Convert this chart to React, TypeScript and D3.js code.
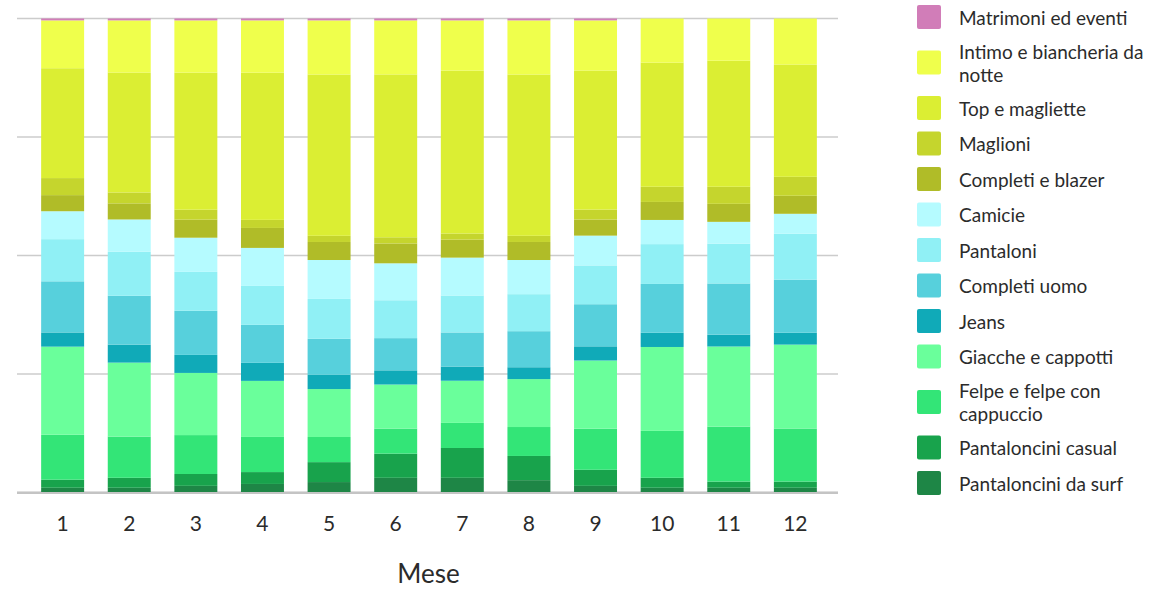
import React from "react";
import * as d3 from "d3";

const months = ["1", "2", "3", "4", "5", "6", "7", "8", "9", "10", "11", "12"];

// Series values (share per month, %), bottom to top of the stack
const pantaloncinDaSurf = [1.0, 1.0, 1.4, 1.8, 2.2, 3.1, 3.1, 2.6, 1.4, 1.0, 1.0, 1.0];
const pantaloncinCasual = [1.7, 2.1, 2.5, 2.5, 4.2, 5.1, 6.3, 5.1, 3.4, 2.1, 1.3, 1.3];
const felpe = [9.5, 8.7, 8.2, 7.4, 5.3, 5.3, 5.3, 6.1, 8.7, 9.9, 11.6, 11.2];
const giacche = [18.6, 15.6, 13.1, 11.8, 10.1, 9.3, 8.9, 10.1, 14.4, 17.7, 16.9, 17.7];
const jeans = [3.0, 3.8, 3.8, 3.8, 3.0, 3.0, 3.0, 2.5, 3.0, 3.0, 2.5, 2.5];
const completiUomo = [10.8, 10.3, 9.3, 8.0, 7.6, 6.8, 7.2, 7.6, 8.9, 10.3, 10.8, 11.2];
const pantaloni = [8.9, 9.3, 8.2, 8.2, 8.4, 8.0, 7.8, 7.8, 8.2, 8.4, 8.4, 9.7];
const camicie = [5.9, 6.8, 7.2, 8.0, 8.2, 7.8, 8.0, 7.2, 6.3, 5.1, 4.6, 4.2];
const completiBlazer = [3.4, 3.4, 3.8, 4.2, 3.8, 4.2, 3.8, 3.8, 3.4, 3.8, 3.8, 3.8];
const maglioni = [3.6, 2.3, 2.1, 1.7, 1.3, 1.3, 1.3, 1.3, 2.1, 3.2, 3.6, 4.0];
const topMagliette = [23.2, 25.3, 28.9, 31.0, 34.0, 34.4, 34.4, 34.0, 29.4, 26.2, 26.6, 23.7];
const intimo = [10.1, 11.0, 11.0, 11.0, 11.4, 11.4, 10.6, 11.4, 10.6, 9.3, 8.9, 9.7];
const matrimoni = [0.4, 0.4, 0.4, 0.4, 0.4, 0.4, 0.4, 0.4, 0.4, 0, 0, 0];

// bottom -> top
const seriesNames = [
  "Pantaloncini da surf",
  "Pantaloncini casual",
  "Felpe e felpe con cappuccio",
  "Giacche e cappotti",
  "Jeans",
  "Completi uomo",
  "Pantaloni",
  "Camicie",
  "Completi e blazer",
  "Maglioni",
  "Top e magliette",
  "Intimo e biancheria da notte",
  "Matrimoni ed eventi",
];
const seriesValues = [
  pantaloncinDaSurf, pantaloncinCasual, felpe, giacche, jeans, completiUomo,
  pantaloni, camicie, completiBlazer, maglioni, topMagliette, intimo, matrimoni,
];
const seriesColors = [
  "#1e8646", "#18a34c", "#33e577", "#6aff9b", "#10aab8", "#57d0dc",
  "#90f0f5", "#b5fbff", "#b0bc28", "#c5d52d", "#dbee33", "#efff4c", "#d17db8",
];
// legend text lines (top -> bottom order)
const legendLines: Record<string, string[]> = {
  "Matrimoni ed eventi": ["Matrimoni ed eventi"],
  "Intimo e biancheria da notte": ["Intimo e biancheria da", "notte"],
  "Top e magliette": ["Top e magliette"],
  "Maglioni": ["Maglioni"],
  "Completi e blazer": ["Completi e blazer"],
  "Camicie": ["Camicie"],
  "Pantaloni": ["Pantaloni"],
  "Completi uomo": ["Completi uomo"],
  "Jeans": ["Jeans"],
  "Giacche e cappotti": ["Giacche e cappotti"],
  "Felpe e felpe con cappuccio": ["Felpe e felpe con", "cappuccio"],
  "Pantaloncini casual": ["Pantaloncini casual"],
  "Pantaloncini da surf": ["Pantaloncini da surf"],
};
const yTicks = [0, 0.25, 0.5, 0.75, 1];

const W = 1158;
const H = 590;
const FONT = "Lato, 'Open Sans', sans-serif";
const TEXT = "#2b2b2b";

export default function App() {
  const rows = months.map((m, i) => {
    const r: Record<string, number | string> = { month: m };
    seriesNames.forEach((s, k) => (r[s] = seriesValues[k][i]));
    return r;
  });
  const stack = d3
    .stack<Record<string, number | string>>()
    .keys(seriesNames)
    .value((d, key) => d[key] as number)
    .offset(d3.stackOffsetExpand);
  const layers = stack(rows);

  const gridX0 = 17;
  const gridX1 = 838;
  const x = d3.scaleBand().domain(months).range([18.5, 839.5]).paddingInner(0.355).paddingOuter(0.34);
  const y = d3.scaleLinear().domain([0, 1]).range([492.5, 18.5]);

  // legend layout (top -> bottom)
  const legendOrder = [...seriesNames].reverse();
  const legendColors = [...seriesColors].reverse();
  const lineH = 23;
  const single = 35.5;
  let cursor = -0.75;
  const legendItems = legendOrder.map((name, i) => {
    const lines = legendLines[name];
    const h = single + (lines.length - 1) * 20;
    const cy = cursor + h / 2;
    cursor += h;
    return { name, lines, cy, color: legendColors[i] };
  });

  return (
    <div style={{ position: "fixed", left: 0, top: 0 }}>
      <svg width={W} height={H} style={{ display: "block", fontFamily: FONT }}>
        <rect width={W} height={H} fill="#ffffff" />
        {yTicks.map((t) => (
          <line
            key={t}
            x1={gridX0}
            x2={gridX1}
            y1={y(t)}
            y2={y(t)}
            stroke={t === 0 ? "#bdbdbd" : "#cccccc"}
            strokeWidth={t === 0 ? 2 : 1.5}
          />
        ))}
        {layers.map((layer, k) => (
          <g key={layer.key} fill={seriesColors[k]}>
            {layer.map((d, i) => {
              const y0 = y(d[0]);
              const y1 = y(d[1]);
              const h = y0 - y1;
              if (h <= 0) return null;
              return (
                <rect
                  key={i}
                  x={x(months[i])}
                  width={x.bandwidth()}
                  y={y1}
                  height={h}
                />
              );
            })}
          </g>
        ))}
        <line x1={gridX0} x2={gridX1} y1={y(0) + 0.5} y2={y(0) + 0.5} stroke="#c4c4c4" strokeWidth={2} />
        {months.map((m) => (
          <text
            key={m}
            x={(x(m) as number) + x.bandwidth() / 2}
            y={531}
            textAnchor="middle"
            fontSize={21}
            fill={TEXT}
          >
            {m}
          </text>
        ))}
        <text x={(gridX0 + gridX1) / 2 + 1} y={583} textAnchor="middle" fontSize={26} fill={TEXT}>
          Mese
        </text>
        {legendItems.map((it) => (
          <g key={it.name}>
            <rect x={917} y={it.cy - 12} width={24} height={24} rx={2} fill={it.color} />
            {it.lines.map((ln, j) => (
              <text
                key={j}
                x={959}
                y={it.cy + (j - (it.lines.length - 1) / 2) * lineH}
                dominantBaseline="central"
                fontSize={19}
                fill={TEXT}
              >
                {ln}
              </text>
            ))}
          </g>
        ))}
      </svg>
    </div>
  );
}
